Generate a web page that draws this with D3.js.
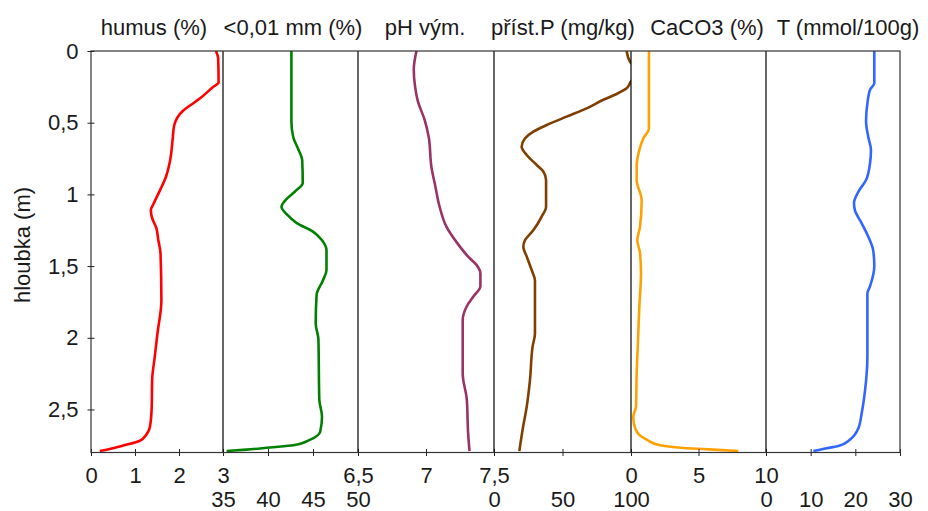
<!DOCTYPE html>
<html>
<head>
<meta charset="utf-8">
<script src="https://cdn.jsdelivr.net/npm/d3@7"></script>
<style>
  html, body { margin: 0; padding: 0; background: #fff; }
  svg { display: block; font-family: "Liberation Sans", Arial, sans-serif; }
</style>
</head>
<body>
<svg id="chart" width="928" height="511"></svg>
<script>
// Soil profile: six properties plotted against depth (m)
const titles = ["humus (%)", "<0,01 mm (%)", "pH vým.", "příst.P (mg/kg)", "CaCO3 (%)", "T (mmol/100g)"];
const colors = ["#ff0000", "#008000", "#993366", "#7f3f00", "#ffa200", "#3366ff"];
const domains = [[0, 3], [35, 50], [6.5, 7.5], [0, 100], [0, 10], [0, 30]];
const xTicks = [[0, 1, 2, 3], [35, 40, 45, 50], [6.5, 7, 7.5], [0, 50, 100], [0, 5, 10], [0, 10, 20, 30]];
const depthTicks = [0, 0.5, 1, 1.5, 2, 2.5];

const humusDepth = [0, 0.05, 0.22, 0.25, 0.33, 0.38, 0.42, 0.52, 0.6, 0.76, 0.88, 0.97, 1.06, 1.11, 1.155, 1.24, 1.32, 1.41, 1.74, 1.97, 2.13, 2.29, 2.48, 2.62, 2.67, 2.72, 2.75, 2.77, 2.79];
const humus = [2.84, 2.89, 2.9, 2.78, 2.48, 2.25, 2.08, 1.89, 1.86, 1.8, 1.7, 1.57, 1.43, 1.36, 1.38, 1.49, 1.53, 1.58, 1.6, 1.51, 1.45, 1.39, 1.38, 1.34, 1.27, 1.1, 0.75, 0.5, 0.2];

const clayDepth = [0, 0.49, 0.6, 0.69, 0.76, 0.92, 0.98, 1.03, 1.086, 1.14, 1.2, 1.26, 1.32, 1.39, 1.527, 1.6, 1.7, 1.9, 2.01, 2.43, 2.55, 2.655, 2.71, 2.75, 2.765, 2.78, 2.79];
const clay = [42.6, 42.6, 42.8, 43.4, 43.8, 43.86, 43.0, 42.1, 41.5, 42.1, 43.2, 45.0, 46.0, 46.5, 46.5, 46.1, 45.4, 45.3, 45.6, 45.7, 46.0, 45.8, 44.7, 42.8, 40.2, 37.6, 35.4];

const phDepth = [0, 0.13, 0.25, 0.35, 0.48, 0.6, 0.81, 0.95, 1.086, 1.225, 1.34, 1.434, 1.49, 1.55, 1.64, 1.71, 1.78, 1.876, 2.25, 2.43, 2.67, 2.79];
const ph = [6.93, 6.91, 6.92, 6.94, 6.99, 7.02, 7.04, 7.07, 7.10, 7.15, 7.23, 7.31, 7.37, 7.40, 7.40, 7.35, 7.30, 7.27, 7.27, 7.30, 7.31, 7.32];

const phosDepth = [0, 0.075, 0.12, 0.17, 0.214, 0.26, 0.30, 0.34, 0.40, 0.458, 0.516, 0.563, 0.61, 0.667, 0.725, 0.795, 0.84, 0.9, 1.086, 1.155, 1.25, 1.32, 1.365, 1.434, 1.527, 1.6, 1.97, 2.06, 2.29, 2.48, 2.64, 2.79];
const phos = [96.8, 99.3, 103, 103, 99.8, 96.8, 89.5, 79.8, 67.6, 53, 38.5, 28.7, 22.6, 20.2, 23.9, 31.2, 36, 38, 38, 34.8, 28.7, 22.6, 21.4, 23.9, 27.5, 29.9, 29.9, 28.2, 26.3, 23.9, 20.9, 18.5];

const carbDepth = [0, 0.54, 0.61, 0.69, 0.807, 0.9, 1.04, 1.225, 1.32, 1.41, 1.55, 1.78, 2.015, 2.25, 2.48, 2.55, 2.6, 2.67, 2.71, 2.75, 2.77, 2.78, 2.79];
const carb = [1.33, 1.33, 0.91, 0.62, 0.42, 0.42, 0.79, 0.67, 0.47, 0.67, 0.74, 0.62, 0.52, 0.42, 0.37, 0.17, 0.22, 0.54, 1.16, 2.15, 4.12, 6.1, 7.95];

const cecDepth = [0, 0.225, 0.27, 0.365, 0.49, 0.6, 0.69, 0.78, 0.9, 0.98, 1.06, 1.11, 1.2, 1.295, 1.39, 1.5, 1.64, 1.69, 2.13, 2.36, 2.53, 2.63, 2.71, 2.755, 2.77, 2.79];
const cec = [24.25, 24.25, 23.3, 22.7, 22.4, 22.9, 23.5, 23.3, 22.4, 20.7, 19.7, 19.9, 21.4, 22.9, 24.0, 24.25, 23.3, 22.7, 22.7, 22.2, 21.4, 20.7, 18.8, 16.2, 13.6, 10.6];

const depths = [humusDepth, clayDepth, phDepth, phosDepth, carbDepth, cecDepth];
const values = [humus, clay, ph, phos, carb, cec];

// Layout
const edges = [91, 223, 358, 494, 631, 766, 900];
const plotTop = 51, plotBottom = 452.5;
const titleX = [154, 293, 425, 563, 707, 848];
const fontSize = 22;

const comma = v => String(v).replace(".", ",");
const svg = d3.select("#chart");

const y = d3.scaleLinear().domain([0, 2.8]).range([plotTop, plotBottom]);

// Panels
edges.slice(0, 6).forEach((x0, i) => {
  const x1 = edges[i + 1];
  const x = d3.scaleLinear().domain(domains[i]).range([x0, x1]);

  svg.append("clipPath").attr("id", "clip" + i)
    .append("rect").attr("x", x0).attr("y", plotTop).attr("width", x1 - x0).attr("height", plotBottom - plotTop);

  const pts = depths[i].map((d, k) => [values[i][k], d]);
  const line = d3.line().x(p => x(p[0])).y(p => y(p[1])).curve(d3.curveMonotoneY);
  svg.append("path")
    .attr("clip-path", `url(#clip${i})`)
    .attr("d", line(pts))
    .attr("fill", "none")
    .attr("stroke", colors[i])
    .attr("stroke-width", 2.6)
    .attr("stroke-linejoin", "round");

  // bottom axis: labels alternate between two rows
  const ax = svg.append("g").attr("transform", `translate(0,${plotBottom})`)
    .call(d3.axisBottom(x).tickValues(xTicks[i]).tickFormat(comma).tickSize(3.5).tickSizeOuter(0));
  ax.select(".domain").remove();
  ax.selectAll(".tick line").attr("y1", -3.5).attr("stroke", "#222");
  ax.selectAll(".tick text")
    .attr("y", i % 2 === 0 ? 30 : 54).attr("dy", 0)
    .attr("fill", "#1a1a1a").attr("font-size", fontSize)
    .attr("font-family", "Liberation Sans, Arial, sans-serif");

  svg.append("text")
    .attr("x", titleX[i]).attr("y", 35)
    .attr("text-anchor", "middle")
    .attr("font-size", fontSize).attr("fill", "#1a1a1a")
    .text(titles[i]);
});

// panel dividers
svg.selectAll("line.divider").data(edges.slice(1, 6)).join("line")
  .attr("class", "divider")
  .attr("x1", d => d).attr("x2", d => d)
  .attr("y1", plotTop).attr("y2", plotBottom)
  .attr("stroke", "#000").attr("stroke-width", 1.2);

// plot frame
svg.append("rect")
  .attr("x", edges[0]).attr("y", plotTop)
  .attr("width", edges[6] - edges[0]).attr("height", plotBottom - plotTop)
  .attr("fill", "none").attr("stroke", "#333").attr("stroke-width", 1.2);

// depth axis
const ay = svg.append("g").attr("transform", `translate(${edges[0]},0)`)
  .call(d3.axisLeft(y).tickValues(depthTicks).tickFormat(comma).tickSize(3.5).tickPadding(9).tickSizeOuter(0));
ay.select(".domain").remove();
ay.selectAll(".tick line").attr("x1", 3.5).attr("stroke", "#222");
ay.selectAll(".tick text")
  .attr("fill", "#1a1a1a").attr("font-size", fontSize)
  .attr("font-family", "Liberation Sans, Arial, sans-serif");

svg.append("text")
  .attr("transform", "translate(30,245) rotate(-90)")
  .attr("text-anchor", "middle")
  .attr("font-size", fontSize).attr("fill", "#1a1a1a")
  .text("hloubka (m)");
</script>
</body>
</html>
